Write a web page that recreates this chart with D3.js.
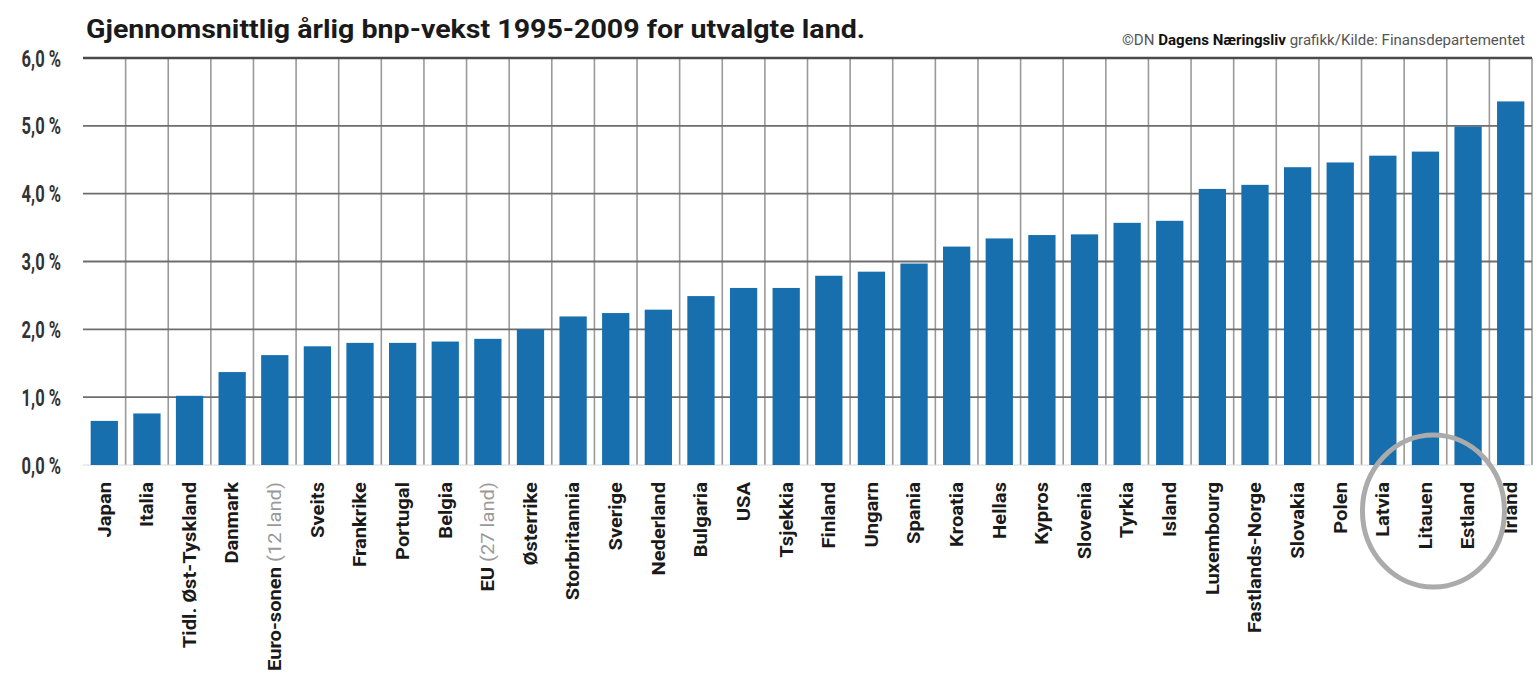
<!DOCTYPE html>
<html>
<head>
<meta charset="utf-8">
<script src="https://cdn.jsdelivr.net/npm/d3@7"></script>
<style>
  body { margin: 0; background: #fff; }
  text { font-family: Roboto, "Open Sans", sans-serif; }
</style>
</head>
<body>
<div id="chart"></div>
<script>
// Land, sortert etter vekst
let countries = [
  'Japan', 'Italia', 'Tidl. Øst-Tyskland', 'Danmark', 'Euro-sonen (12 land)',
  'Sveits', 'Frankrike', 'Portugal', 'Belgia', 'EU (27 land)', 'Østerrike',
  'Storbritannia', 'Sverige', 'Nederland', 'Bulgaria', 'USA', 'Tsjekkia',
  'Finland', 'Ungarn', 'Spania', 'Kroatia', 'Hellas', 'Kypros', 'Slovenia',
  'Tyrkia', 'Island', 'Luxembourg', 'Fastlands-Norge', 'Slovakia', 'Polen',
  'Latvia', 'Litauen', 'Estland', 'Irland'
]

// Gjennomsnittlig årlig bnp-vekst, prosent
let growth = [
  0.65, 0.76, 1.02, 1.37, 1.62,
  1.75, 1.80, 1.80, 1.82, 1.86, 2.00,
  2.19, 2.24, 2.29, 2.49, 2.61, 2.61,
  2.79, 2.85, 2.97, 3.22, 3.34, 3.39, 3.40,
  3.57, 3.60, 4.07, 4.13, 4.39, 4.46,
  4.56, 4.62, 4.99, 5.36
]

let yTicks = [0, 1, 2, 3, 4, 5, 6]
let circled = ['Litauen']

let title = 'Gjennomsnittlig årlig bnp-vekst 1995-2009 for utvalgte land.'

let data = countries.map((name, i) => ({ name, value: growth[i] }))

let size = { width: 1538, height: 688 }
let margin = { top: 58, right: 6, bottom: 223, left: 83 }
let width = size.width - margin.left - margin.right
let height = size.height - margin.top - margin.bottom

let svg = d3.select('#chart').append('svg')
  .attr('width', size.width)
  .attr('height', size.height)

let x = d3.scaleBand()
  .domain(countries)
  .range([ margin.left, margin.left + width ])
  .paddingInner(0.36)
  .paddingOuter(0.18)

let y = d3.scaleLinear()
  .domain([ 0, 6 ])
  .range([ margin.top + height, margin.top ])

// Vertikale skillelinjer mellom landene
let step = x.step()
svg.append('g')
  .selectAll('line')
  .data(d3.range(1, countries.length + 1))
  .enter()
  .append('line')
  .attr('x1', i => margin.left + i * step)
  .attr('x2', i => margin.left + i * step)
  .attr('y1', y(6))
  .attr('y2', y(0))
  .style('stroke', '#9a9a9a')
  .style('stroke-width', 1.6)

// Horisontale linjer
svg.append('g')
  .selectAll('line')
  .data(yTicks.filter(t => t > 0))
  .enter()
  .append('line')
  .attr('x1', margin.left)
  .attr('x2', margin.left + width)
  .attr('y1', y)
  .attr('y2', y)
  .style('stroke', t => t === 6 ? '#4a4a4a' : '#6e6e6e')
  .style('stroke-width', t => t === 6 ? 2.6 : 1.8)

svg.append('line')
  .attr('x1', margin.left)
  .attr('x2', margin.left + width)
  .attr('y1', y(0))
  .attr('y2', y(0))
  .style('stroke', '#d8d8d8')
  .style('stroke-width', 1)

// Søylene
svg.append('g')
  .selectAll('rect')
  .data(data)
  .enter()
  .append('rect')
  .attr('x', d => x(d.name))
  .attr('width', x.bandwidth())
  .attr('y', d => y(d.value))
  .attr('height', d => y(0) - y(d.value))
  .style('fill', '#176fad')

// Y-aksen
let yAxis = svg.append('g')
  .attr('transform', `translate(${margin.left - 22}, 0)`)
  .call(d3.axisLeft(y).tickValues(yTicks).tickSize(0)
    .tickFormat(d => d3.format('.1f')(d).replace('.', ',') + ' %'))
yAxis.select('.domain').remove()
yAxis.selectAll('text')
  .style('font-family', 'Roboto, sans-serif')
  .style('font-size', '23px')
  .style('font-weight', 'bold')
  .style('fill', '#333')
  .attr('transform', 'scale(0.72, 1)')
  .attr('x', 0)
  .attr('dy', '0.35em')

// Navn på landene, rotert
let labels = svg.append('g')
  .selectAll('text')
  .data(countries)
  .enter()
  .append('text')
  .attr('transform', d => `translate(${x(d) + x.bandwidth() / 2}, 482) rotate(-90) scale(1.12, 1)`)
  .attr('dy', '0.35em')
  .style('text-anchor', 'end')
  .style('font-size', '18px')
  .style('font-weight', 'bold')
  .style('fill', '#1a1a1a')

labels.each(function (d) {
  let parts = d.split(' (')
  let t = d3.select(this)
  t.append('tspan').text(parts[0])
  if (parts[1]) {
    t.append('tspan').style('fill', '#999').style('font-weight', 'normal').text(' (' + parts[1])
  }
})

// Markering rundt de baltiske landene
let mid = circled[0]
svg.append('ellipse')
  .attr('cx', x(mid) + x.bandwidth() / 2 + 8)
  .attr('cy', 511)
  .attr('rx', 71)
  .attr('ry', 76)
  .style('fill', 'none')
  .style('stroke', '#ababab')
  .style('stroke-width', 5)

// Tittel
svg.append('text')
  .attr('x', 86)
  .attr('y', 38)
  .attr('textLength', 779)
  .attr('lengthAdjust', 'spacingAndGlyphs')
  .style('font-size', '25px')
  .style('font-weight', 'bold')
  .style('fill', '#1a1a1a')
  .text(title)

// Kilde
let src = svg.append('text')
  .attr('x', 1122)
  .attr('y', 45)
  .attr('textLength', 403)
  .attr('lengthAdjust', 'spacingAndGlyphs')
  .style('font-size', '15px')
  .style('fill', '#555')
src.append('tspan').text('©DN ')
src.append('tspan').style('font-weight', 'bold').style('fill', '#111').text('Dagens Næringsliv')
src.append('tspan').text(' grafikk/Kilde: Finansdepartementet')
</script>
</body>
</html>
